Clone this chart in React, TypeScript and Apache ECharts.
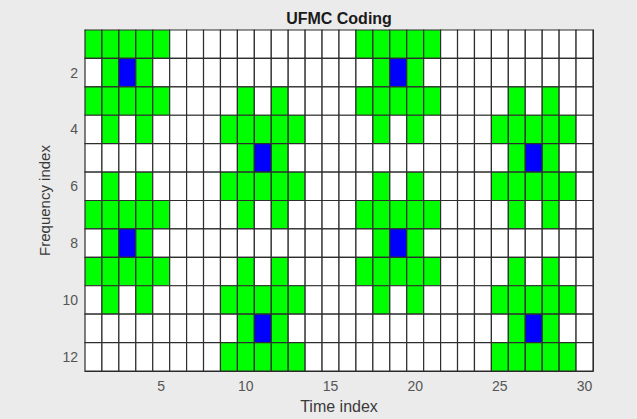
import React, { useEffect, useRef } from "react";
import * as echarts from "echarts";

const timeIndex = Array.from({ length: 30 }, (_, i) => i + 1);
const frequencyIndex = Array.from({ length: 12 }, (_, i) => i + 1);
const xTicks = [5, 10, 15, 20, 25, 30];
const yTicks = [2, 4, 6, 8, 10, 12];

// 0 = empty, 1 = green (coded), 2 = blue (pilot); one row per frequency index, one entry per time index
const row1 = [1,1,1,1,1,0,0,0,0,0,0,0,0,0,0,0,1,1,1,1,1,0,0,0,0,0,0,0,0,0];
const row2 = [0,1,2,1,0,0,0,0,0,0,0,0,0,0,0,0,0,1,2,1,0,0,0,0,0,0,0,0,0,0];
const row3 = [1,1,1,1,1,0,0,0,0,1,0,1,0,0,0,0,1,1,1,1,1,0,0,0,0,1,0,1,0,0];
const row4 = [0,1,0,1,0,0,0,0,1,1,1,1,1,0,0,0,0,1,0,1,0,0,0,0,1,1,1,1,1,0];
const row5 = [0,0,0,0,0,0,0,0,0,1,2,1,0,0,0,0,0,0,0,0,0,0,0,0,0,1,2,1,0,0];
const row6 = [0,1,0,1,0,0,0,0,1,1,1,1,1,0,0,0,0,1,0,1,0,0,0,0,1,1,1,1,1,0];
const row7 = [1,1,1,1,1,0,0,0,0,1,0,1,0,0,0,0,1,1,1,1,1,0,0,0,0,1,0,1,0,0];
const row8 = [0,1,2,1,0,0,0,0,0,0,0,0,0,0,0,0,0,1,2,1,0,0,0,0,0,0,0,0,0,0];
const row9 = [1,1,1,1,1,0,0,0,0,1,0,1,0,0,0,0,1,1,1,1,1,0,0,0,0,1,0,1,0,0];
const row10 = [0,1,0,1,0,0,0,0,1,1,1,1,1,0,0,0,0,1,0,1,0,0,0,0,1,1,1,1,1,0];
const row11 = [0,0,0,0,0,0,0,0,0,1,2,1,0,0,0,0,0,0,0,0,0,0,0,0,0,1,2,1,0,0];
const row12 = [0,0,0,0,0,0,0,0,1,1,1,1,1,0,0,0,0,0,0,0,0,0,0,0,1,1,1,1,1,0];
const rows = [row1, row2, row3, row4, row5, row6, row7, row8, row9, row10, row11, row12];

const cellColors = ["#ffffff", "#00ff00", "#0000ff"];
const FONT = "'Liberation Sans', Arial, Helvetica, sans-serif";

export default function App() {
  const ref = useRef<HTMLDivElement>(null);
  useEffect(() => {
    document.body.style.margin = "0";
    const chart = echarts.init(ref.current!, null, { renderer: "svg" });
    const data: number[][] = [];
    frequencyIndex.forEach((f, ri) => {
      timeIndex.forEach((t, ci) => {
        data.push([t, f, rows[ri][ci]]);
      });
    });
    const axisLine = { show: true, lineStyle: { color: "#262626", width: 1 } };
    const tickStyle = { color: "#262626", width: 1 };
    chart.setOption({
      animation: false,
      backgroundColor: "#ebebeb",
      graphic: [
        {
          type: "text",
          x: 339,
          y: 18,
          style: {
            text: "UFMC Coding",
            textAlign: "center",
            textVerticalAlign: "middle",
            font: `bold 16px ${FONT}`,
            fill: "#1a1a1a",
          },
        },
      ],
      grid: { left: 85, top: 30, width: 508, height: 343, show: true, backgroundColor: "#ffffff", borderWidth: 0 },
      xAxis: [
        {
          type: "value",
          min: 0.5,
          max: 30.5,
          position: "bottom",
          name: "Time index",
          nameLocation: "middle",
          nameGap: 27,
          nameTextStyle: { fontFamily: FONT, fontSize: 16, color: "#3a3a3a" },
          axisLine,
          axisTick: { show: true, inside: true, length: 3, customValues: xTicks, lineStyle: tickStyle },
          axisLabel: { customValues: xTicks, fontFamily: FONT, fontSize: 14, color: "#555555", margin: 8 },
          splitLine: { show: false },
        },
        {
          type: "value",
          min: 0.5,
          max: 30.5,
          position: "top",
          axisLine,
          axisTick: { show: true, inside: true, length: 3, customValues: xTicks, lineStyle: tickStyle },
          axisLabel: { show: false },
          splitLine: { show: false },
        },
      ],
      yAxis: [
        {
          type: "value",
          min: 0.5,
          max: 12.5,
          inverse: true,
          position: "left",
          name: "Frequency index",
          nameLocation: "middle",
          nameGap: 30,
          nameTextStyle: { fontFamily: FONT, fontSize: 15, color: "#3a3a3a" },
          axisLine,
          axisTick: { show: true, inside: true, length: 3, customValues: yTicks, lineStyle: tickStyle },
          axisLabel: { customValues: yTicks, fontFamily: FONT, fontSize: 14, color: "#555555", margin: 7 },
          splitLine: { show: false },
        },
        {
          type: "value",
          min: 0.5,
          max: 12.5,
          inverse: true,
          position: "right",
          axisLine,
          axisTick: { show: true, inside: true, length: 3, customValues: yTicks, lineStyle: tickStyle },
          axisLabel: { show: false },
          splitLine: { show: false },
        },
      ],
      series: [
        {
          type: "custom",
          xAxisIndex: 0,
          yAxisIndex: 0,
          data,
          renderItem: (params: any, api: any) => {
            const x = api.value(0);
            const y = api.value(1);
            const c = api.value(2);
            const p1 = api.coord([x - 0.5, y - 0.5]);
            const p2 = api.coord([x + 0.5, y + 0.5]);
            return {
              type: "rect",
              shape: {
                x: Math.min(p1[0], p2[0]),
                y: Math.min(p1[1], p2[1]),
                width: Math.abs(p2[0] - p1[0]),
                height: Math.abs(p2[1] - p1[1]),
              },
              style: { fill: cellColors[c], stroke: "#2e2e2e", lineWidth: 1.2 },
            };
          },
        },
      ],
    });
    return () => chart.dispose();
  }, []);
  return <div ref={ref} style={{ width: 637, height: 419 }} />;
}
